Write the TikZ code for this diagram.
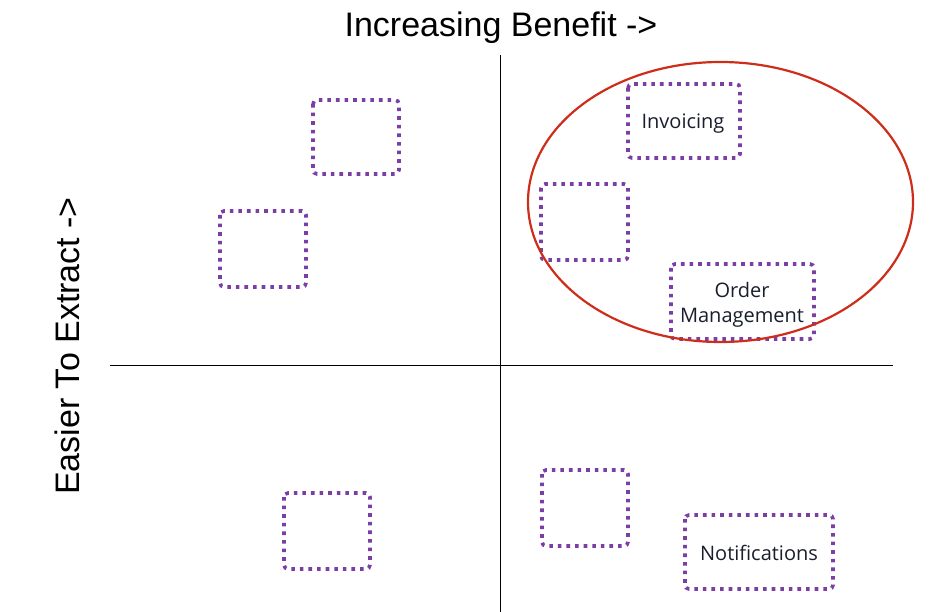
\documentclass[tikz,border=0pt]{standalone}
\usepackage{fontspec}
\setmainfont{Liberation Sans}
\newfontfamily\boxfont{Open Sans}
\definecolor{boxpurple}{RGB}{122,62,165}
\definecolor{ovalred}{RGB}{205,45,25}
\definecolor{boxtext}{RGB}{25,30,45}
\begin{document}
\begin{tikzpicture}[x=1pt,y=-1pt,
  quadbox/.style={draw=boxpurple, line width=3.6pt, dash pattern=on 3.6pt off 5pt, rounded corners=4pt},
  boxlabel/.style={font=\boxfont\fontsize{20}{25}\selectfont, text=boxtext, align=center},
  axislabel/.style={font=\fontsize{34}{40}\selectfont},
  axis/.style={line width=0.9pt, black}]
\useasboundingbox (0,0) rectangle (942,612);
\coordinate (vtop) at (500,55);
\coordinate (vbot) at (500,612);
\coordinate (hl) at (110,365);
\coordinate (hr) at (893,365);
\draw[axis] (vtop) -- (vbot);
\draw[axis] (hl) -- (hr);
\node[axislabel] (title) at (501,28) {Increasing Benefit ->};
\node[axislabel, rotate=90] (ylab) at (67,346) {Easier To Extract ->};
\draw[quadbox] (313,100) rectangle (399,174);
\draw[quadbox] (220,211) rectangle (306,287);
\draw[quadbox] (628,84) rectangle (740,158);
\draw[quadbox] (541,184) rectangle (628,260);
\draw[quadbox] (671,264) rectangle (814,339);
\draw[quadbox] (542,470) rectangle (628,546);
\draw[quadbox] (284,493) rectangle (370,569);
\draw[quadbox] (685,515) rectangle (833,589);
\node[boxlabel] (inv) at (683,124) {Invoicing};
\node[boxlabel] (ord) at (742,305) {Order\\Management};
\node[boxlabel] (not) at (759,553) {Notifications};
\draw[ovalred, line width=2.2pt] (720.5,202) ellipse [x radius=192.5, y radius=140];
\end{tikzpicture}
\end{document}
